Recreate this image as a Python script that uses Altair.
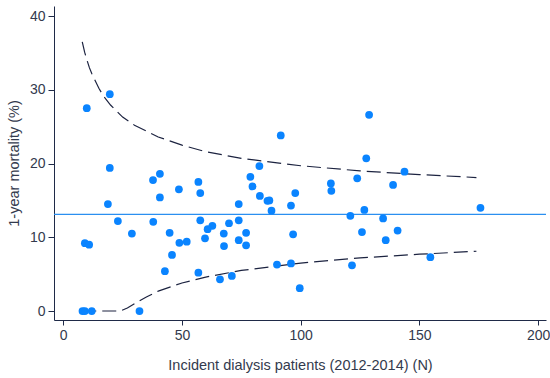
import altair as alt
import pandas as pd

# Scatter: incident dialysis patients (N) vs 1-year mortality (%)
n_patients = [9.9, 19.6, 19.6, 18.8, 23.0, 28.9, 9.1, 10.9, 8.1, 9.1, 12.0, 32.1,
              37.8, 40.7, 48.7, 40.7, 37.9, 44.8, 48.9, 52.0, 91.6, 82.6, 56.9, 57.7,
              78.8, 79.7, 82.8, 86.0, 86.8, 97.7, 95.9, 73.9, 87.7, 57.7, 73.9, 62.8,
              60.8, 69.8, 67.6, 77.0, 59.7, 96.8, 73.9, 67.7, 77.0, 45.8, 42.8, 56.9,
              66.0, 71.0, 90.0, 95.9, 99.6, 112.9, 112.7, 120.9, 126.8, 134.7, 125.8,
              140.8, 135.8, 175.7, 121.6, 154.6, 128.8, 127.6, 143.7, 123.8, 138.9]
mortality = [27.5, 29.4, 19.4, 14.5, 12.2, 10.5, 9.2, 9.0, 0.0, 0.0, 0.0, 0.0,
             17.75, 18.6, 16.5, 15.4, 12.1, 10.6, 9.25, 9.4, 23.8, 19.65, 17.5, 16.0,
             18.2, 16.9, 15.6, 14.95, 15.0, 16.0, 14.3, 14.5, 13.6, 12.3, 12.3, 11.55,
             11.1, 11.9, 10.5, 10.6, 9.85, 10.4, 9.6, 8.8, 8.9, 7.6, 5.4, 5.2,
             4.3, 4.75, 6.3, 6.45, 3.1, 16.3, 17.3, 12.9, 13.7, 12.55, 10.7,
             10.9, 9.6, 14.0, 6.2, 7.3, 26.6, 20.7, 18.9, 18.0, 17.1]

# Funnel limits
limit_n = [8, 9, 10, 11, 12, 15, 17, 20, 25, 30, 40, 50, 60, 75, 100, 125, 150, 174]
upper = [36.5, 35.1, 34.0, 33.0, 32.2, 30.2, 29.1, 27.9, 26.3, 25.2, 23.6, 22.5,
         21.6, 20.7, 19.7, 19.0, 18.5, 18.1]
lower_n = [8, 24, 27, 30, 35, 40, 50, 60, 75, 100, 125, 150, 174]
lower = [0.0, 0.0, 0.4, 1.0, 1.9, 2.7, 3.8, 4.6, 5.5, 6.5, 7.2, 7.7, 8.1]
mean_rate = [13.1]

x_ticks = [0, 50, 100, 150, 200]
y_ticks = [0, 10, 20, 30, 40]

pts = pd.DataFrame({"n": n_patients, "m": mortality})
up = pd.DataFrame({"n": limit_n, "m": upper})
lo = pd.DataFrame({"n": lower_n, "m": lower})
mean_df = pd.DataFrame({"m": mean_rate})

AX = "#1f2a48"
TXT = "#333a4d"
FONT = "Liberation Sans"

xs = alt.Scale(domain=[-3.9, 203.3], nice=False, zero=False)
ys = alt.Scale(domain=[-1.22, 41.36], nice=False, zero=False)

xax = alt.Axis(values=x_ticks, title="Incident dialysis patients (2012-2014) (N)",
               grid=False, domainColor=AX, tickColor=AX, tickSize=5, labelPadding=3,
               labelFontSize=14, labelColor=TXT, labelFont=FONT, titleFont=FONT,
               titleFontSize=14.5, titleFontWeight="normal", titleColor=TXT, titlePadding=16)
yax = alt.Axis(values=y_ticks, title="1-year mortality (%)",
               grid=False, domainColor=AX, tickColor=AX, tickSize=6, labelPadding=3,
               labelFontSize=14, labelColor=TXT, labelFont=FONT, titleFont=FONT,
               titleFontSize=14.5, titleFontWeight="normal", titleColor=TXT, titlePadding=8)

base_x = alt.X("n:Q", scale=xs, axis=xax)
base_y = alt.Y("m:Q", scale=ys, axis=yax)

upper_line = alt.Chart(up).mark_line(color="#1c2340", strokeWidth=1.2,
                                     strokeDash=[14, 6]).encode(x=base_x, y=base_y)
lower_line = alt.Chart(lo).mark_line(color="#1c2340", strokeWidth=1.2,
                                     strokeDash=[14, 6]).encode(x=base_x, y=base_y)
mean_line = alt.Chart(mean_df).mark_rule(color="#2b8ff0", strokeWidth=1.3).encode(
    y=alt.Y("m:Q", scale=ys, axis=yax))
points = alt.Chart(pts).mark_circle(color="#0a84ff", opacity=1, size=60).encode(
    x=base_x, y=base_y)

chart = alt.layer(mean_line, upper_line, lower_line, points).properties(
    width=492, height=314,
    autosize=alt.AutoSizeParams(type="none"),
    padding={"left": 54, "top": 6, "right": 4, "bottom": 58},
    background="white",
).configure_view(stroke=None)

chart.save("out.html", embed_options={"renderer": "svg", "actions": False})
